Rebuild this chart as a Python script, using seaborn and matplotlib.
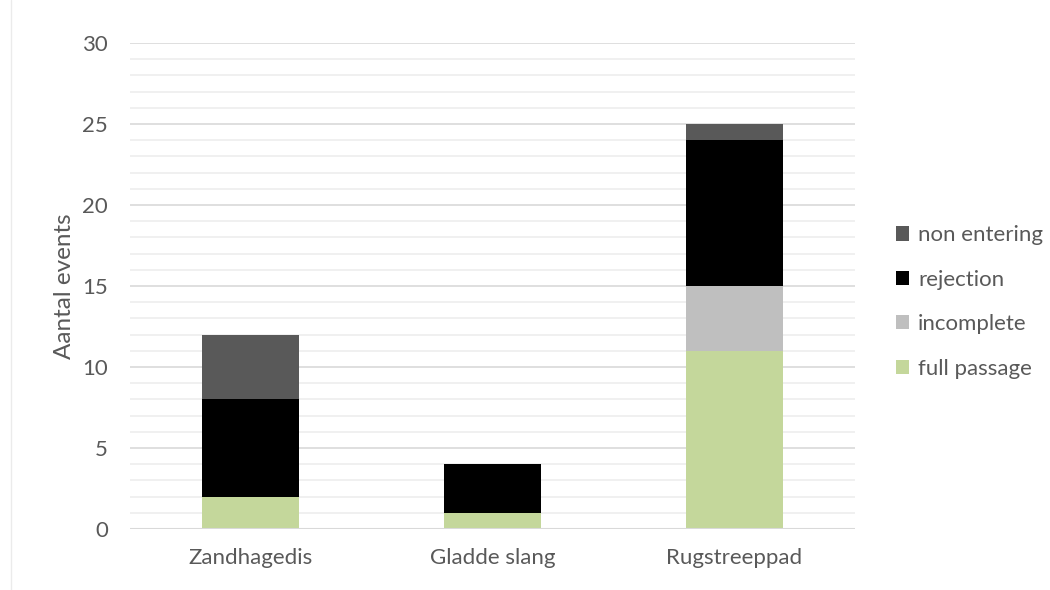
import matplotlib
matplotlib.use("Agg")
import matplotlib.pyplot as plt
import seaborn as sns
import numpy as np
import pandas as pd
from matplotlib.patches import Patch
from matplotlib.lines import Line2D

categories = ["Zandhagedis", "Gladde slang", "Rugstreeppad"]
full_passage = [2, 1, 11]
incomplete = [0, 0, 4]
rejection = [6, 3, 9]
non_entering = [4, 0, 1]

series_names = ["full passage", "incomplete", "rejection", "non entering"]
series_vals = [full_passage, incomplete, rejection, non_entering]
colors = {"full passage": "#C4D79B", "incomplete": "#BFBFBF",
          "rejection": "#000000", "non entering": "#595959"}

sns.set_theme(style="white")
plt.rcParams['font.family'] = ['Lato', 'DejaVu Sans']
text_color = "#595959"

fig = plt.figure(figsize=(10.5, 5.9), dpi=100)
ax = fig.add_axes([130/1050, 1-529/590, 725/1050, (529-43)/590])

cum = np.cumsum(np.array(series_vals), axis=0)
# draw from top layer to bottom so lower layers overlap
for i in range(len(series_names) - 1, -1, -1):
    df = pd.DataFrame({"cat": categories, "val": cum[i]})
    sns.barplot(data=df, x="cat", y="val", color=colors[series_names[i]],
                width=0.4, ax=ax, saturation=1, linewidth=0, zorder=3)

ax.set_ylim(0, 30)
ax.set_xlim(-0.5, 2.5)
ax.set_yticks(range(0, 31, 5))
ax.grid(False)
for y in range(1, 31):
    if y % 5 != 0:
        ax.axhline(y, color="#EEEEEE", linewidth=1.2, zorder=1)
for y in range(5, 31, 5):
    ax.axhline(y, color="#D9D9D9", linewidth=1.2, zorder=1)
ax.axhline(0, color="#D9D9D9", linewidth=1.5, zorder=4)

for s in ax.spines.values():
    s.set_visible(False)
ax.tick_params(axis="both", which="both", length=0, colors=text_color, labelsize=16)
ax.tick_params(axis="y", pad=16)
ax.tick_params(axis="x", pad=14)
ax.set_xlabel("")
ax.set_ylabel("Aantal events", fontsize=17.5, color=text_color, labelpad=5)

handles = [Patch(facecolor=colors[n], edgecolor="none") for n in series_names[::-1]]
leg = fig.legend(handles, series_names[::-1], loc="center left",
                 bbox_to_anchor=(876/1050, 1-302/590), frameon=False,
                 fontsize=16, labelcolor=text_color, handlelength=0.6,
                 handleheight=0.6, handletextpad=0.4, labelspacing=1.1)

fig.add_artist(Line2D([10.5/1050, 10.5/1050], [0, 1], color="#EBEBEB", linewidth=1))

fig.savefig("out.png", dpi=100)
